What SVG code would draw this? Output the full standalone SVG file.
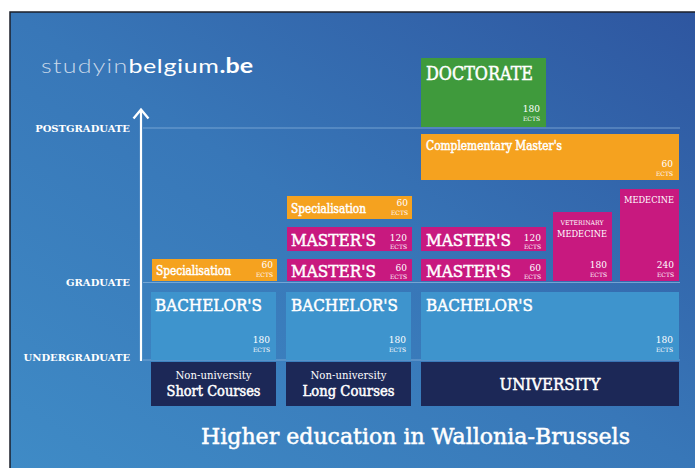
<svg xmlns="http://www.w3.org/2000/svg" width="695" height="468" viewBox="0 0 695 468">
<defs>
<linearGradient id="bg" x1="0" y1="1" x2="1" y2="0">
<stop offset="0" stop-color="#3f8bc6"/>
<stop offset="0.5" stop-color="#3877b8"/>
<stop offset="1" stop-color="#2e56a0"/>
</linearGradient>
<style>
.t{font-family:"DejaVu Serif","Liberation Serif",serif;fill:#fff}
.s{stroke:#fff;stroke-width:0.5}
.big{font-size:17px}
.mid{font-size:12px}
.num{font-size:9px;text-anchor:end}
.ects{font-size:6px;text-anchor:end}
.ax{font-size:10px;font-weight:bold;text-anchor:end}
.or{fill:#f5a21f}
.mg{fill:#c8197f}
.gr{fill:#3f9a3c}
.lb{fill:#3e94cd}
.nv{fill:#1c2857}
.guide{stroke:#8fb8e0;stroke-width:1;opacity:0.7}
</style>
</defs>
<rect x="0" y="0" width="695" height="468" fill="#fff"/>
<rect x="10" y="12" width="685" height="456" fill="url(#bg)"/>
<path d="M10,468 V12 H695" fill="none" stroke="#1b1f2a" stroke-width="1.5"/>

<g id="logo">
<text x="41" y="73" font-family="Lato,'Open Sans',sans-serif" font-size="20" textLength="212" lengthAdjust="spacingAndGlyphs"><tspan fill="#c9d8ea" font-weight="300" letter-spacing="1">studyin</tspan><tspan fill="#ffffff" letter-spacing="0.5">belgium</tspan><tspan fill="#ffffff" font-weight="bold">.be</tspan></text>
</g>

<g id="connectors">
<line class="guide" x1="143" y1="128" x2="680" y2="128"/>
<line class="guide" x1="143" y1="282.5" x2="680" y2="282.5"/>
<line class="guide" x1="143" y1="360" x2="680" y2="360"/>
<line x1="141" y1="361" x2="141" y2="110" stroke="#fff" stroke-width="2.2"/>
<path d="M133.5,118.5 L141,109.5 L148.5,118.5" fill="none" stroke="#fff" stroke-width="2.4" stroke-linejoin="miter"/>
</g>

<g id="axis-labels">
<text class="t ax" x="130" y="132">POSTGRADUATE</text>
<text class="t ax" x="130" y="286">GRADUATE</text>
<text class="t ax" x="130" y="361">UNDERGRADUATE</text>
</g>

<g id="doctorate">
<rect class="gr" x="421" y="58" width="125" height="69"/>
<text class="t s" x="426" y="80" font-size="18" textLength="107" lengthAdjust="spacingAndGlyphs">DOCTORATE</text>
<text class="t num" x="540" y="112">180</text>
<text class="t ects" x="540" y="121">ECTS</text>
</g>

<g id="complementary-masters">
<rect class="or" x="421" y="134" width="258" height="46"/>
<text class="t mid s" x="426" y="150" stroke-width="0.3" textLength="136" lengthAdjust="spacingAndGlyphs">Complementary Master's</text>
<text class="t num" x="673" y="167">60</text>
<text class="t ects" x="673" y="176">ECTS</text>
</g>

<g id="specialisation-long">
<rect class="or" x="287" y="196" width="125" height="23"/>
<text class="t mid s" x="291" y="213" stroke-width="0.3" textLength="75" lengthAdjust="spacingAndGlyphs">Specialisation</text>
<text class="t num" x="408" y="206">60</text>
<text class="t ects" x="408" y="215">ECTS</text>
</g>

<g id="masters-long-120">
<rect class="mg" x="287" y="227" width="125" height="24"/>
<text class="t big s" x="291" y="246" textLength="85" lengthAdjust="spacingAndGlyphs">MASTER'S</text>
<text class="t num" x="407" y="241">120</text>
<text class="t ects" x="407" y="249">ECTS</text>
</g>

<g id="masters-long-60">
<rect class="mg" x="287" y="259" width="125" height="22"/>
<text class="t big s" x="291" y="277" textLength="85" lengthAdjust="spacingAndGlyphs">MASTER'S</text>
<text class="t num" x="407" y="271">60</text>
<text class="t ects" x="407" y="279">ECTS</text>
</g>

<g id="masters-univ-120">
<rect class="mg" x="421" y="227" width="125" height="24"/>
<text class="t big s" x="426" y="246" textLength="85" lengthAdjust="spacingAndGlyphs">MASTER'S</text>
<text class="t num" x="541" y="241">120</text>
<text class="t ects" x="541" y="249">ECTS</text>
</g>

<g id="masters-univ-60">
<rect class="mg" x="421" y="259" width="125" height="22"/>
<text class="t big s" x="426" y="277" textLength="85" lengthAdjust="spacingAndGlyphs">MASTER'S</text>
<text class="t num" x="541" y="271">60</text>
<text class="t ects" x="541" y="279">ECTS</text>
</g>

<g id="veterinary-medecine">
<rect class="mg" x="553" y="212" width="59" height="69"/>
<text class="t" x="582" y="225" font-size="6.5" text-anchor="middle" textLength="43" lengthAdjust="spacingAndGlyphs">VETERINARY</text>
<text class="t" x="582" y="237" font-size="9.5" text-anchor="middle" textLength="50" lengthAdjust="spacingAndGlyphs">MEDECINE</text>
<text class="t num" x="607" y="268">180</text>
<text class="t ects" x="607" y="277">ECTS</text>
</g>

<g id="medecine">
<rect class="mg" x="620" y="189" width="59" height="92"/>
<text class="t" x="649" y="203" font-size="9" text-anchor="middle" textLength="50" lengthAdjust="spacingAndGlyphs">MEDECINE</text>
<text class="t num" x="674" y="268">240</text>
<text class="t ects" x="674" y="277">ECTS</text>
</g>

<g id="specialisation-short">
<rect class="or" x="152" y="259" width="125" height="22"/>
<text class="t mid s" x="156" y="275" stroke-width="0.3" textLength="75" lengthAdjust="spacingAndGlyphs">Specialisation</text>
<text class="t num" x="273" y="268">60</text>
<text class="t ects" x="273" y="277">ECTS</text>
</g>

<g id="bachelors-short">
<rect class="lb" x="151" y="292" width="125" height="68"/>
<text class="t big s" x="155" y="311" textLength="107" lengthAdjust="spacingAndGlyphs">BACHELOR'S</text>
<text class="t num" x="270" y="343">180</text>
<text class="t ects" x="270" y="352">ECTS</text>
</g>

<g id="bachelors-long">
<rect class="lb" x="286" y="292" width="125" height="68"/>
<text class="t big s" x="291" y="311" textLength="107" lengthAdjust="spacingAndGlyphs">BACHELOR'S</text>
<text class="t num" x="406" y="343">180</text>
<text class="t ects" x="406" y="352">ECTS</text>
</g>

<g id="bachelors-univ">
<rect class="lb" x="421" y="292" width="258" height="68"/>
<text class="t big s" x="426" y="311" textLength="107" lengthAdjust="spacingAndGlyphs">BACHELOR'S</text>
<text class="t num" x="673" y="343">180</text>
<text class="t ects" x="673" y="352">ECTS</text>
</g>

<g id="short-courses">
<rect class="nv" x="151" y="362" width="125" height="44"/>
<text class="t" x="213.5" y="379" font-size="10.5" text-anchor="middle" textLength="76" lengthAdjust="spacingAndGlyphs">Non-university</text>
<text class="t s" x="213.5" y="396" font-size="14" stroke-width="0.3" text-anchor="middle" textLength="94" lengthAdjust="spacingAndGlyphs">Short Courses</text>
</g>

<g id="long-courses">
<rect class="nv" x="286" y="362" width="125" height="44"/>
<text class="t" x="348.5" y="379" font-size="10.5" text-anchor="middle" textLength="76" lengthAdjust="spacingAndGlyphs">Non-university</text>
<text class="t s" x="348.5" y="396" font-size="14" stroke-width="0.3" text-anchor="middle" textLength="92" lengthAdjust="spacingAndGlyphs">Long Courses</text>
</g>

<g id="university">
<rect class="nv" x="421" y="362" width="258" height="44"/>
<text class="t s" x="550" y="390" font-size="16" text-anchor="middle" textLength="101" lengthAdjust="spacingAndGlyphs">UNIVERSITY</text>
</g>

<g id="title">
<text class="t s" x="201" y="444" font-size="22" stroke-width="0.5" textLength="429" lengthAdjust="spacingAndGlyphs">Higher education in Wallonia-Brussels</text>
</g>
</svg>
